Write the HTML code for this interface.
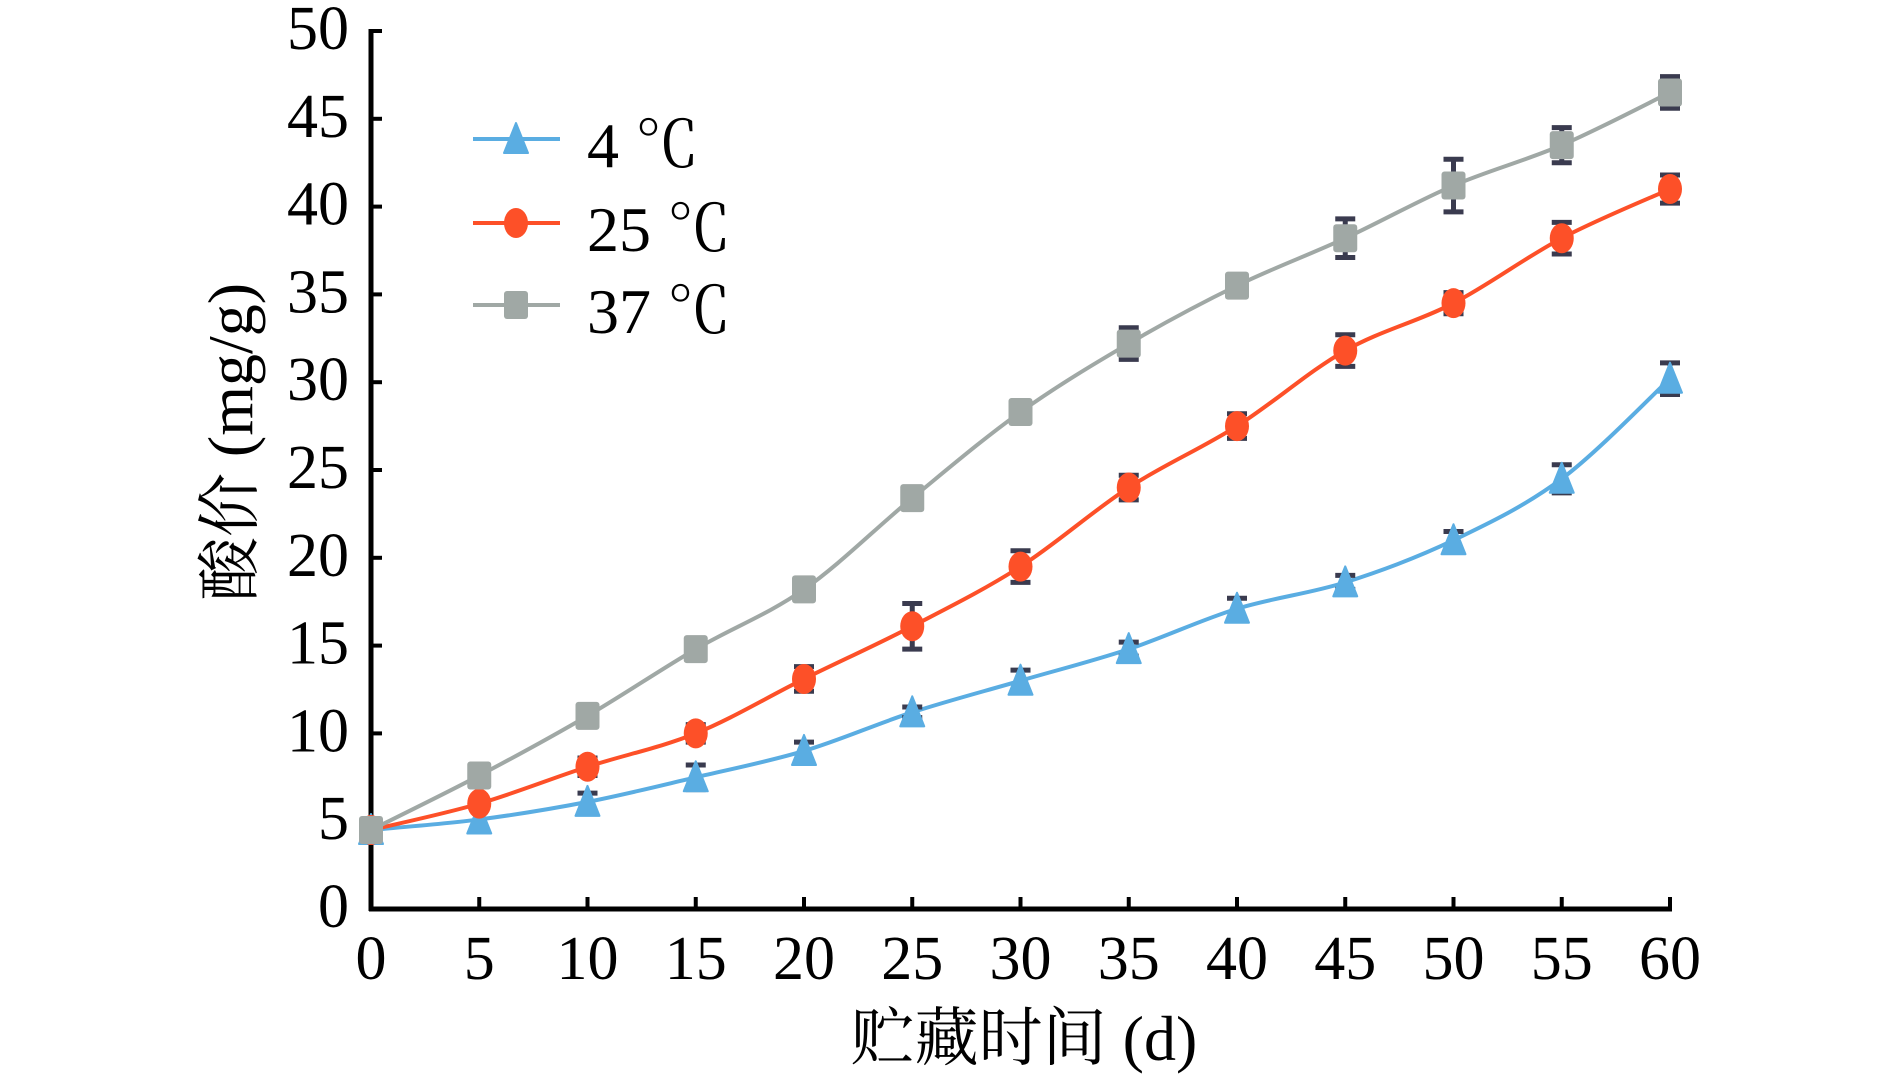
<!DOCTYPE html>
<html><head><meta charset="utf-8"><style>
html,body{margin:0;padding:0;background:#fff;}
svg{display:block;}
text{font-family:"Liberation Serif","Noto Serif CJK SC",serif;fill:#000;}
</style></head><body>
<svg id="chart" width="1890" height="1079" viewBox="0 0 1890 1079" xmlns="http://www.w3.org/2000/svg">
<g id="grid"></g>
</svg>
<script>
const days = [0,5,10,15,20,25,30,35,40,45,50,55,60];
const s4 = [4.5,5.1,6.1,7.5,9.0,11.2,13.0,14.8,17.1,18.6,21.0,24.5,30.2];
const s25 = [4.5,6.0,8.1,10.0,13.1,16.1,19.5,24.0,27.5,31.8,34.5,38.2,41.0];
const s37 = [4.5,7.6,11.0,14.8,18.2,23.4,28.3,32.2,35.5,38.2,41.2,43.5,46.5];
const e4 = [0,0,0.5,0.7,0.5,0.3,0.6,0.4,0.6,0.4,0.5,0.8,0.9];
const e25 = [0,0.3,0.5,0.5,0.7,1.3,0.9,0.7,0.7,0.9,0.6,0.9,0.8];
const e37 = [0,0.3,0.3,0.2,0.6,0.4,0.4,0.9,0.4,1.1,1.5,1.0,0.9];
const yTicks = [0,5,10,15,20,25,30,35,40,45,50];
const xTicks = [0,5,10,15,20,25,30,35,40,45,50,55,60];
const legendLabels = ["4 ℃","25 ℃","37 ℃"];

const NS="http://www.w3.org/2000/svg";
const svg=document.getElementById('chart');
const X0=371,X1=1670,Y0=909,Y1=31;
const xs=v=>X0+(v-0)/(60-0)*(X1-X0);
const ys=v=>Y0-(v-0)/(50-0)*(Y0-Y1);
function mk(tag,attrs,parent){const e=document.createElementNS(NS,tag);for(const k in attrs)e.setAttribute(k,attrs[k]);(parent||svg).appendChild(e);return e;}

const axY=mk('line',{x1:X0,y1:Y1-2,x2:X0,y2:Y0+2,stroke:'#000','stroke-width':5});


const axX=mk('line',{x1:X0-2,y1:Y0,x2:X1+2,y2:Y0,stroke:'#000','stroke-width':5});


yTicks.forEach(v=>{
  const t=mk('line',{x1:X0,y1:ys(v),x2:X0+11,y2:ys(v),stroke:'#000','stroke-width':4});
  
  
  const l=mk('text',{x:349,y:ys(v)+18,'text-anchor':'end','font-size':62});
  
  
  l.textContent=v;
});
xTicks.forEach(v=>{
  const t=mk('line',{x1:xs(v),y1:Y0,x2:xs(v),y2:Y0-12,stroke:'#000','stroke-width':4});
  
  
  const l=mk('text',{x:xs(v),y:979,'text-anchor':'middle','font-size':62});
  
  
  l.textContent=v;
});
const xt=mk('text',{x:1024,y:1060,'text-anchor':'middle','font-size':64});


xt.textContent='贮藏时间 (d)';
const yt=mk('text',{x:0,y:0,'text-anchor':'middle','font-size':64,transform:'translate(252,442) rotate(-90)'});


yt.textContent='酸价 (mg/g)';

function smooth(pts){
  let d=`M${pts[0][0]},${pts[0][1]}`;
  for(let i=0;i<pts.length-1;i++){
    const p0=pts[Math.max(0,i-1)],p1=pts[i],p2=pts[i+1],p3=pts[Math.min(pts.length-1,i+2)];
    const c1=[p1[0]+(p2[0]-p0[0])/6,p1[1]+(p2[1]-p0[1])/6];
    const c2=[p2[0]-(p3[0]-p1[0])/6,p2[1]-(p3[1]-p1[1])/6];
    d+=` C${c1[0]},${c1[1]} ${c2[0]},${c2[1]} ${p2[0]},${p2[1]}`;
  }
  return d;
}
function marker(type,cx,cy,color,g){
  if(type==='tri') return mk('polygon',{points:`${cx},${cy-16} ${cx+12},${cy+14} ${cx-12},${cy+14}`,fill:color,'stroke':color,'stroke-width':2,'stroke-linejoin':'round'},g);
  if(type==='circ') return mk('ellipse',{cx:cx,cy:cy,rx:12,ry:15,fill:color},g);
  return mk('rect',{x:cx-12,y:cy-14,width:24,height:28,rx:3,fill:color},g);
}
const series=[
  {name:'4c',vals:s4,err:e4,color:'#5aade2',m:'tri'},
  {name:'25c',vals:s25,err:e25,color:'#fd5028',m:'circ'},
  {name:'37c',vals:s37,err:e37,color:'#a0a8a5',m:'sq'}
];
series.forEach(s=>{
  const g=mk('g',{});
  
  
  const pts=days.map((d,i)=>[xs(d),ys(s.vals[i])]);
  const p=mk('path',{d:smooth(pts),fill:'none',stroke:s.color,'stroke-width':4},g);
  
  
  days.forEach((d,i)=>{
    const cx=xs(d);
    if(s.err[i]>0){
      const top=ys(s.vals[i]+s.err[i]),bot=ys(s.vals[i]-s.err[i]);
      const eb=mk('path',{d:`M${cx},${top} V${bot} M${cx-10},${top} H${cx+10} M${cx-10},${bot} H${cx+10}`,stroke:'#3a3b4f','stroke-width':5,fill:'none'},g);
      
      
    }
  });
  days.forEach((d,i)=>{
    const mm=marker(s.m,xs(d),ys(s.vals[i]),s.color,g);
    
    
  });
});
const ly=[139,223,305];
series.forEach((s,i)=>{
  const g=mk('g',{});
  
  
  mk('line',{x1:473,y1:ly[i],x2:560,y2:ly[i],stroke:s.color,'stroke-width':4},g);
  marker(s.m,516,ly[i],s.color,g);
  const t=mk('text',{x:587,y:ly[i]+28,'font-size':64},g);
  t.textContent=legendLabels[i];
});
</script>
</body></html>
